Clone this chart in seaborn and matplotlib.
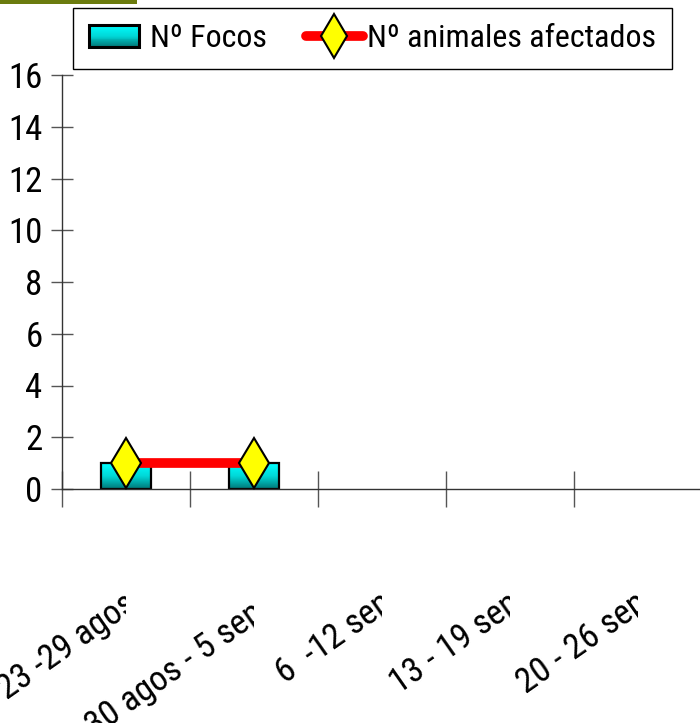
import os
import numpy as np
import pandas as pd
import matplotlib
matplotlib.use("Agg")
import matplotlib.pyplot as plt
import seaborn as sns
from matplotlib import font_manager
from matplotlib.font_manager import FontProperties
from matplotlib.patches import Rectangle
from matplotlib.lines import Line2D
from matplotlib.legend_handler import HandlerBase
from matplotlib.colors import LinearSegmentedColormap
from matplotlib.transforms import Bbox, TransformedBbox, ScaledTranslation

# ---- data ----
categories = ["23 -29 agos", "30 agos - 5 sep", "6  -12 sep", "13 - 19 sep", "20 - 26 sep"]
focos = [1, 1, 0, 0, 0]
animales = [1, 1, np.nan, np.nan, np.nan]
yticks = [0, 2, 4, 6, 8, 10, 12, 14, 16]
series_names = ["Nº Focos", "Nº animales afectados"]

sns.set_style("white")
plt.rcParams["font.family"] = ["Liberation Sans", "DejaVu Sans"]

# pick the most condensed regular sans font available
prefs = ["LiberationSansNarrow-Regular", "NotoSans-ExtraCondensed.", "RobotoCondensed-Regular",
         "Roboto_Condensed-Regular", "NotoSans-Condensed.", "OpenSans_Condensed-Regular",
         "DejaVuSansCondensed."]
files = [f.fname for f in font_manager.fontManager.ttflist]
chosen = None
for p in prefs:
    for fn in files:
        if p in os.path.basename(fn):
            chosen = fn
            break
    if chosen:
        break


def fp(size):
    if chosen:
        return FontProperties(fname=chosen, size=size)
    return FontProperties(family=["Liberation Sans", "DejaVu Sans"], stretch="condensed",
                          size=size)


W, H = 700, 723
fig = plt.figure(figsize=(W / 100, H / 100), dpi=100)
ax = fig.add_axes([62 / W, (H - 489) / H, 640 / W, 414 / H])

df = pd.DataFrame({"cat": categories, "focos": focos, "animales": animales})

sns.barplot(data=df, x="cat", y="focos", ax=ax, width=0.39, color="#00c0c0",
            edgecolor="black", linewidth=1.6, order=categories)

cmap = LinearSegmentedColormap.from_list("tealgrad", ["#007878", "#00d8d8", "#00ffff"])
grad = np.linspace(0, 1, 64).reshape(-1, 1)
for p in list(ax.patches):
    x, y = p.get_x(), p.get_y()
    w, h = p.get_width(), p.get_height()
    if not np.isfinite(h) or h <= 0:
        p.set_visible(False)
        continue
    im = ax.imshow(grad, extent=[x, x + w, y, y + h], origin="lower", aspect="auto",
                   cmap=cmap, zorder=2.2)
    im.set_clip_path(p)
    p.set_facecolor("none")
    p.set_zorder(2.4)

sns.lineplot(data=df, x="cat", y="animales", ax=ax, color="red", linewidth=7,
             marker="d", markersize=25, markerfacecolor="#ffff00",
             markeredgecolor="black", markeredgewidth=1.5, errorbar=None, sort=False,
             zorder=3)

ax.set_xlim(-0.5, len(categories) - 0.5)
ax.set_ylim(0, 16)
ax.set_xlabel("")
ax.set_ylabel("")

for s in ["top", "right"]:
    ax.spines[s].set_visible(False)
for s in ["left", "bottom"]:
    ax.spines[s].set_color("#333333")
    ax.spines[s].set_linewidth(1.0)

ax.set_yticks(yticks)
ax.set_yticklabels([str(v) for v in yticks])
for t in ax.get_yticklabels():
    t.set_fontproperties(fp(25))
    t.set_color("black")
ax.tick_params(axis="y", direction="inout", length=16, width=1, color="#555555", pad=6,
               left=True)
bounds = np.arange(len(categories)) - 0.5
ax.set_xticks(list(bounds) + [len(categories) - 0.5])
ax.set_xticklabels([""] * (len(categories) + 1))
ax.tick_params(axis="x", direction="inout", length=26, width=1, color="#555555", bottom=True)

# rotated, clipped category labels
for i, lab in enumerate(categories):
    dy = -1.29 if i == 1 else -1.19
    tr = ax.transData + ScaledTranslation(0.12, dy, fig.dpi_scale_trans)
    t = ax.text(i, 0, lab, transform=tr, rotation=35, rotation_mode="anchor",
                ha="right", va="baseline", fontproperties=fp(25), color="black")
    t.set_clip_box(TransformedBbox(Bbox([[-5, -100], [i, 100]]), ax.transData))
    t.set_clip_on(True)


class GradHandler(HandlerBase):
    def create_artists(self, legend, orig_handle, xdescent, ydescent, width, height,
                       fontsize, trans):
        n = 24
        arts = []
        w2 = width * 0.87
        for k in range(n):
            c = cmap(1 - k / (n - 1))
            arts.append(Rectangle((-xdescent, -ydescent + height * (n - 1 - k) / n),
                                  w2, height / n + 0.05, facecolor=c,
                                  edgecolor="none", transform=trans))
        arts.append(Rectangle((-xdescent, -ydescent), w2, height, fill=False,
                              edgecolor="black", linewidth=2.2, transform=trans))
        return arts


bar_handle = Rectangle((0, 0), 1, 1)
line_handle = Line2D([], [], color="red", linewidth=7, marker="d", markersize=22,
                     markerfacecolor="#ffff00", markeredgecolor="black",
                     markeredgewidth=1.5)
leg = fig.legend([bar_handle, line_handle], series_names,
                 handler_map={Rectangle: GradHandler()},
                 loc="center", bbox_to_anchor=((79 + 666) / 2 / W, 1 - (5 + 72) / 2 / H),
                 ncol=2, prop=fp(23), frameon=True, fancybox=False, shadow=False,
                 handlelength=1.8, handletextpad=0.12, columnspacing=1.2,
                 borderpad=0.5, borderaxespad=0)
for t in leg.get_texts():
    t.set_color("black")
leg.get_frame().set_edgecolor("black")
leg.get_frame().set_linewidth(1.0)
leg.get_frame().set_alpha(1)

fig.add_artist(Rectangle((0, 1 - 4 / H), 137 / W, 4 / H, transform=fig.transFigure,
                         facecolor="#6b7b0e", edgecolor="none"))

fig.savefig("out.png", dpi=100)
